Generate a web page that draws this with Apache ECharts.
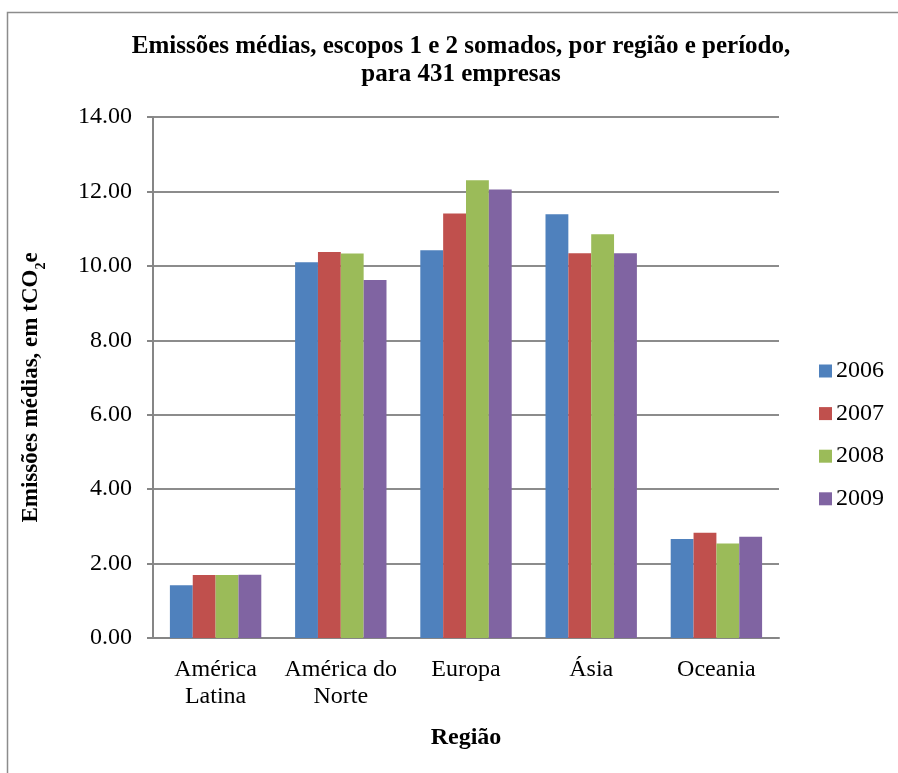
<!DOCTYPE html>
<html>
<head>
<meta charset="utf-8">
<script src="https://cdn.jsdelivr.net/npm/echarts@6/dist/echarts.min.js"></script>
<style>
  html, body { margin: 0; padding: 0; background: #fff; }
  #chart { width: 898px; height: 773px; }
</style>
</head>
<body>
<div id="chart"></div>
<script>
// Regiões e emissões médias (tCO2e) por ano
const regioes = ['América\nLatina', 'América do\nNorte', 'Europa', 'Ásia', 'Oceania'];
const anos = ['2006', '2007', '2008', '2009'];
const emissoes2006 = [1.42, 10.10, 10.42, 11.39, 2.66];
const emissoes2007 = [1.69, 10.37, 11.41, 10.34, 2.83];
const emissoes2008 = [1.69, 10.33, 12.30, 10.85, 2.54];
const emissoes2009 = [1.70, 9.62, 12.05, 10.34, 2.72];
const cores = ['#4F81BD', '#C0504D', '#9BBB59', '#8064A2'];

const serieValores = [emissoes2006, emissoes2007, emissoes2008, emissoes2009];
const fonte = '"Liberation Serif", "Times New Roman", serif';

const chart = echarts.init(document.getElementById('chart'), null, { renderer: 'canvas' });

chart.setOption({
  backgroundColor: '#ffffff',
  animation: false,
  color: cores,
  title: {
    text: 'Emissões médias, escopos 1 e 2 somados, por região e período,\npara 431 empresas',
    left: 456,
    top: 28,
    textAlign: 'center',
    textStyle: {
      fontFamily: fonte,
      fontWeight: 'bold',
      fontSize: 25,
      lineHeight: 28,
      color: '#000'
    }
  },
  graphic: [{
    type: 'rect',
    left: 5,
    top: 10,
    shape: { width: 1000, height: 1000 },
    style: { fill: 'none', stroke: '#8c8c8c', lineWidth: 1.5 },
    silent: true
  }],
  legend: {
    orient: 'vertical',
    left: 819,
    top: 359,
    padding: 0,
    itemWidth: 13,
    itemHeight: 13,
    itemGap: 18.6,
    icon: 'rect',
    data: anos,
    textStyle: { fontFamily: fonte, fontSize: 24, lineHeight: 24, color: '#000', padding: [0, 0, 0, -1] }
  },
  grid: { left: 153, right: 119, top: 117, bottom: 135 },
  xAxis: {
    type: 'category',
    data: regioes,
    name: 'Região',
    nameLocation: 'middle',
    nameGap: 88,
    nameTextStyle: { fontFamily: fonte, fontWeight: 'bold', fontSize: 24, color: '#000' },
    axisLine: { lineStyle: { color: '#868686', width: 2 } },
    axisTick: { show: false },
    axisLabel: {
      fontFamily: fonte, fontSize: 24, color: '#000',
      lineHeight: 27, margin: 18, interval: 0
    }
  },
  yAxis: {
    type: 'value',
    min: 0,
    max: 14,
    interval: 2,
    name: '{a|Emissões médias, em tCO}{s|2}{a|e}',
    nameLocation: 'middle',
    nameGap: 110,
    nameTextStyle: {
      padding: [0, 20, 0, 0],
      rich: {
        a: { fontFamily: fonte, fontWeight: 'bold', fontSize: 23, color: '#000', lineHeight: 28, verticalAlign: 'bottom' },
        s: { fontFamily: fonte, fontWeight: 'bold', fontSize: 14, color: '#000', lineHeight: 28, verticalAlign: 'bottom', padding: [0, 0, -5, 0] }
      }
    },
    axisLine: { show: true, lineStyle: { color: '#868686', width: 2 } },
    axisTick: { show: true, length: 6, lineStyle: { color: '#868686', width: 2 } },
    splitLine: { lineStyle: { color: '#8c8c8c', width: 2 } },
    axisLabel: {
      fontFamily: fonte, fontSize: 24, color: '#000', margin: 21,
      formatter: v => v.toFixed(2)
    }
  },
  series: anos.map((ano, i) => ({
    name: ano,
    type: 'bar',
    data: serieValores[i],
    barGap: '0%',
    barCategoryGap: '27%',
    itemStyle: { color: cores[i] }
  }))
});
</script>
</body>
</html>
